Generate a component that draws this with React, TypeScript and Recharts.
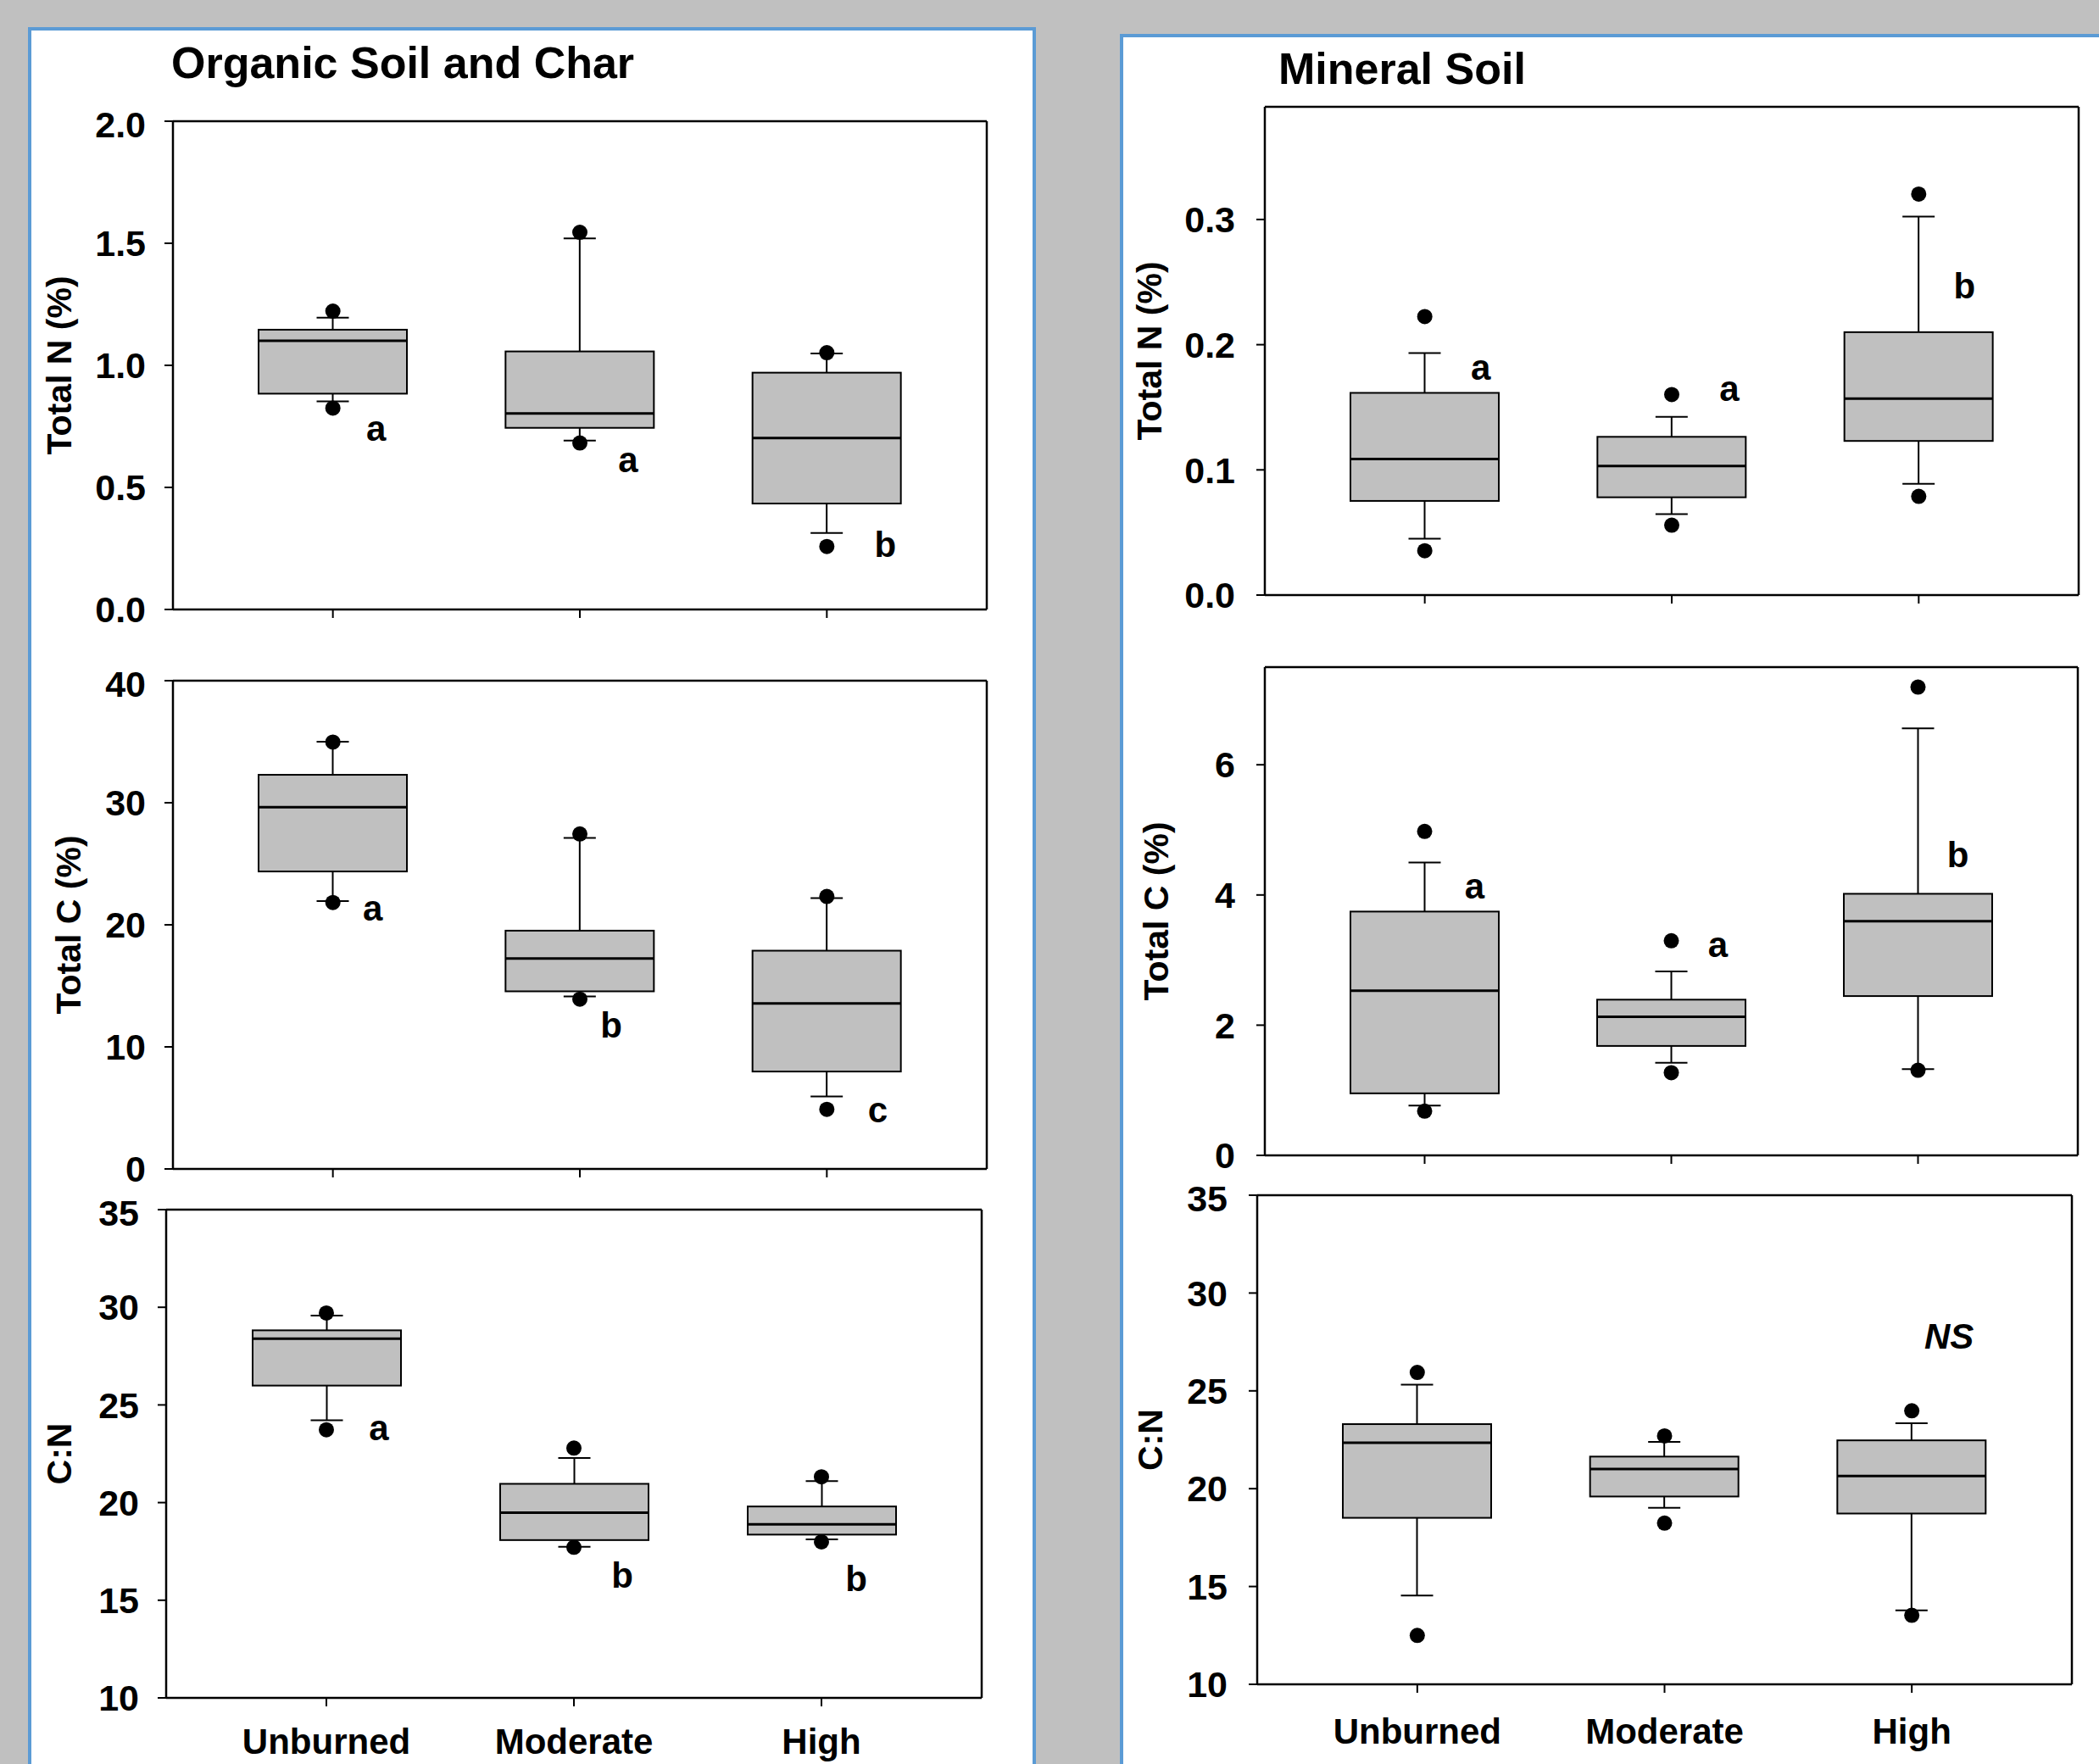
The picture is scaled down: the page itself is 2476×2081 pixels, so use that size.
import { Bar, ComposedChart, Scatter, XAxis, YAxis } from 'recharts';

const FONT = '"Liberation Sans", Arial, sans-serif';
const AXIS_W = 190;

const categories = ['Unburned', 'Moderate', 'High'];

// Organic soil and char — Total N (%)
const orgNOutHigh = [1.222, 1.545, 1.052];
const orgNWhiskerHigh = [1.195, 1.52, 1.049];
const orgNQ3 = [1.146, 1.057, 0.97];
const orgNMedian = [1.101, 0.803, 0.702];
const orgNQ1 = [0.884, 0.744, 0.434];
const orgNWhiskerLow = [0.852, 0.692, 0.313];
const orgNOutLow = [0.825, 0.682, 0.258];
const orgNLetters = ['a', 'a', 'b'];
const orgNLetterY = [0.74, 0.612, 0.265];
const orgNTicks = [0, 0.5, 1, 1.5, 2];

// Organic soil and char — Total C (%)
const orgCOutHigh = [34.97, 27.44, 22.32];
const orgCWhiskerHigh = [35.0, 27.11, 22.18];
const orgCQ3 = [32.29, 19.52, 17.88];
const orgCMedian = [29.63, 17.24, 13.56];
const orgCQ1 = [24.37, 14.55, 7.98];
const orgCWhiskerLow = [21.94, 14.14, 5.93];
const orgCOutLow = [21.83, 13.91, 4.88];
const orgCLetters = ['a', 'b', 'c'];
const orgCLetterY = [21.36, 11.78, 4.85];
const orgCTicks = [0, 10, 20, 30, 40];

// Organic soil and char — C:N
const orgCNOutHigh = [29.71, 22.79, 21.32];
const orgCNWhiskerHigh = [29.57, 22.28, 21.1];
const orgCNQ3 = [28.82, 20.96, 19.8];
const orgCNMedian = [28.39, 19.48, 18.89];
const orgCNQ1 = [25.99, 18.08, 18.36];
const orgCNWhiskerLow = [24.21, 17.74, 18.12];
const orgCNOutLow = [23.73, 17.71, 17.99];
const orgCNLetters = ['a', 'b', 'b'];
const orgCNLetterY = [23.83, 16.29, 16.1];
const cnTicks = [10, 15, 20, 25, 30, 35];

// Mineral soil — Total N (%)
const minNOutHigh = [0.2225, 0.1602, 0.3203];
const minNWhiskerHigh = [0.1933, 0.1424, 0.3023];
const minNQ3 = [0.1615, 0.1264, 0.21];
const minNMedian = [0.1086, 0.1031, 0.1569];
const minNQ1 = [0.0752, 0.0781, 0.1231];
const minNWhiskerLow = [0.045, 0.0647, 0.0889];
const minNOutLow = [0.0354, 0.0558, 0.0788];
const minNLetters = ['a', 'a', 'b'];
const minNLetterY = [0.1815, 0.165, 0.2465];
const minNTicks = [0, 0.1, 0.2, 0.3];

// Mineral soil — Total C (%)
const minCOutHigh = [4.976, 3.296, 7.193];
const minCWhiskerHigh = [4.5, 2.825, 6.558];
const minCQ3 = [3.745, 2.392, 4.018];
const minCMedian = [2.529, 2.13, 3.597];
const minCQ1 = [0.953, 1.681, 2.447];
const minCWhiskerLow = [0.766, 1.423, 1.325];
const minCOutLow = [0.679, 1.27, 1.308];
const minCLetters = ['a', 'a', 'b'];
const minCLetterY = [4.14, 3.24, 4.62];
const minCTicks = [0, 2, 4, 6];

// Mineral soil — C:N
const minCNOutHigh = [25.94, 22.7, 23.98];
const minCNWhiskerHigh = [25.32, 22.39, 23.34];
const minCNQ3 = [23.3, 21.64, 22.47];
const minCNMedian = [22.35, 21.0, 20.65];
const minCNQ1 = [18.51, 19.6, 18.73];
const minCNWhiskerLow = [14.54, 19.02, 13.78];
const minCNOutLow = [12.5, 18.24, 13.53];
const minCNLetters = ['', '', 'NS'];
const minCNLetterY = [null, null, 27.78];

type Row = {
  cat: string;
  outHi: number;
  whi: number;
  q3: number;
  med: number;
  q1: number;
  wlo: number;
  outLo: number;
  letter: string;
  letterY: number | null;
};

function buildRows(
  outHi: number[], whi: number[], q3: number[], med: number[], q1: number[],
  wlo: number[], outLo: number[], letters: string[], letterY: (number | null)[],
): Row[] {
  return categories.map((cat, i) => ({
    cat,
    outHi: outHi[i],
    whi: whi[i],
    q3: q3[i],
    med: med[i],
    q1: q1[i],
    wlo: wlo[i],
    outLo: outLo[i],
    letter: letters[i],
    letterY: letterY[i],
  }));
}

// whiskers + box + median, placed by interpolating inside the bar's [wlo, whi] span
function BoxShape(props: any) {
  const { x, y, width, height, payload } = props;
  if (!payload || width == null) return <g />;
  const top = Math.min(y, y + height);
  const span = Math.abs(height);
  const range = payload.whi - payload.wlo;
  const py = (v: number) => top + ((payload.whi - v) / range) * span;
  const cx = x + width / 2;
  const cap = 19;
  const s = { stroke: '#000', strokeWidth: 2 };
  return (
    <g>
      <line x1={cx} x2={cx} y1={py(payload.whi)} y2={py(payload.q3)} {...s} />
      <line x1={cx} x2={cx} y1={py(payload.q1)} y2={py(payload.wlo)} {...s} />
      <line x1={cx - cap} x2={cx + cap} y1={py(payload.whi)} y2={py(payload.whi)} {...s} />
      <line x1={cx - cap} x2={cx + cap} y1={py(payload.wlo)} y2={py(payload.wlo)} {...s} />
      <rect x={x} y={py(payload.q3)} width={width} height={py(payload.q1) - py(payload.q3)} fill="#c0c0c0" {...s} />
      <line x1={x} x2={x + width} y1={py(payload.med)} y2={py(payload.med)} stroke="#000" strokeWidth={3} />
    </g>
  );
}

function DotShape(props: any) {
  if (props.cx == null || props.cy == null || isNaN(props.cy)) return <g />;
  return <circle cx={props.cx} cy={props.cy} r={9} fill="#000" />;
}

function makeLetterShape(dx: number[], italic: boolean) {
  return (props: any) => {
    const p = props.payload;
    if (!p || !p.letter || props.cy == null || isNaN(props.cy)) return <g />;
    const i = categories.indexOf(p.cat);
    return (
      <text
        x={props.cx + dx[i]}
        y={props.cy}
        textAnchor="middle"
        dominantBaseline="central"
        fontFamily={FONT}
        fontWeight="bold"
        fontStyle={italic ? 'italic' : 'normal'}
        fontSize={42}
        fill="#000"
      >
        {p.letter}
      </text>
    );
  };
}

interface BoxChartProps {
  rows: Row[];
  domain: [number, number];
  ticks: number[];
  digits: number;
  yTitle: string;
  left: number;
  top: number;
  plotW: number;
  plotH: number;
  xh: number;
  titleDist: number;
  tickGap: number;
  catGap: number;
  showCats: boolean;
  letterDx: number[];
  italic?: boolean;
}

function BoxChart(props: BoxChartProps) {
  const { rows, domain, ticks, digits, yTitle, left, top, plotW, plotH, xh, titleDist, tickGap, catGap, showCats, letterDx, italic } = props;
  const W = plotW + AXIS_W + 21;
  const H = plotH + 21 + xh;
  const line = { stroke: '#000', strokeWidth: 2.5 };
  const tickFont = { fill: '#000', fontSize: 43, fontWeight: 'bold', fontFamily: FONT };

  const title = (lp: any) => {
    const vb = lp && lp.viewBox;
    const tx = vb ? vb.x + vb.width - titleDist : AXIS_W - titleDist;
    const ty = vb ? vb.y + vb.height / 2 : 21 + plotH / 2;
    return (
      <text
        x={tx}
        y={ty}
        transform={`rotate(-90 ${tx} ${ty})`}
        textAnchor="middle"
        dominantBaseline="central"
        fontFamily={FONT}
        fontWeight="bold"
        fontSize={41}
        fill="#000"
      >
        {yTitle}
      </text>
    );
  };

  return (
    <div style={{ position: 'absolute', left, top }}>
      <ComposedChart width={W} height={H} data={rows} margin={{ top: 20, right: 20, bottom: 0, left: 0 }}>
        <XAxis
          dataKey="cat"
          interval={0}
          height={xh}
          padding={{ left: 43, right: 43 }}
          tickSize={10}
          tickMargin={catGap}
          axisLine={line}
          tickLine={{ stroke: '#000', strokeWidth: 2 }}
          tick={{ ...tickFont, fontSize: 42 }}
          tickFormatter={showCats ? (v: string) => v : () => ''}
        />
        <XAxis xAxisId="top" dataKey="cat" orientation="top" height={1} tick={false} tickLine={false} axisLine={line} />
        <YAxis
          type="number"
          domain={domain}
          ticks={ticks}
          allowDataOverflow
          width={AXIS_W}
          tickSize={10}
          tickMargin={tickGap}
          axisLine={line}
          tickLine={{ stroke: '#000', strokeWidth: 2 }}
          tick={tickFont}
          tickFormatter={(v: number) => v.toFixed(digits)}
          label={{ content: title }}
        />
        <YAxis yAxisId="right" orientation="right" width={1} domain={[0, 1]} tick={false} tickLine={false} axisLine={line} />
        <Bar dataKey={(d: Row) => [d.wlo, d.whi]} barSize={175} shape={BoxShape} isAnimationActive={false} />
        <Scatter dataKey="outHi" shape={DotShape} isAnimationActive={false} />
        <Scatter dataKey="outLo" shape={DotShape} isAnimationActive={false} />
        <Scatter dataKey="letterY" shape={makeLetterShape(letterDx, !!italic)} isAnimationActive={false} />
      </ComposedChart>
    </div>
  );
}

export default function App() {
  const orgN = buildRows(orgNOutHigh, orgNWhiskerHigh, orgNQ3, orgNMedian, orgNQ1, orgNWhiskerLow, orgNOutLow, orgNLetters, orgNLetterY);
  const orgC = buildRows(orgCOutHigh, orgCWhiskerHigh, orgCQ3, orgCMedian, orgCQ1, orgCWhiskerLow, orgCOutLow, orgCLetters, orgCLetterY);
  const orgCN = buildRows(orgCNOutHigh, orgCNWhiskerHigh, orgCNQ3, orgCNMedian, orgCNQ1, orgCNWhiskerLow, orgCNOutLow, orgCNLetters, orgCNLetterY);
  const minN = buildRows(minNOutHigh, minNWhiskerHigh, minNQ3, minNMedian, minNQ1, minNWhiskerLow, minNOutLow, minNLetters, minNLetterY);
  const minC = buildRows(minCOutHigh, minCWhiskerHigh, minCQ3, minCMedian, minCQ1, minCWhiskerLow, minCOutLow, minCLetters, minCLetterY);
  const minCN = buildRows(minCNOutHigh, minCNWhiskerHigh, minCNQ3, minCNMedian, minCNQ1, minCNWhiskerLow, minCNOutLow, minCNLetters, minCNLetterY);

  return (
    <div style={{ position: 'absolute', left: 0, top: 0, width: 2476, height: 2081, overflow: 'hidden', background: '#c0c0c0' }}>
      <div style={{ position: 'absolute', left: 33, top: 32, width: 1189, height: 2100, background: '#fff', border: '4px solid #5b9bd5', boxSizing: 'border-box' }} />
      <div style={{ position: 'absolute', left: 1321, top: 40, width: 1200, height: 2100, background: '#fff', border: '4px solid #5b9bd5', boxSizing: 'border-box' }} />
      <svg width={2476} height={2081} style={{ position: 'absolute', left: 0, top: 0 }}>
        <text x={202} y={92} fontFamily={FONT} fontWeight="bold" fontSize={52} fill="#000">Organic Soil and Char</text>
        <text x={1508} y={99} fontFamily={FONT} fontWeight="bold" fontSize={52} fill="#000">Mineral Soil</text>
      </svg>

      <BoxChart rows={orgN} domain={[0, 2]} ticks={orgNTicks} digits={1} yTitle="Total N (%)"
        left={14} top={122} plotW={960} plotH={576} xh={30} titleDist={134} tickGap={22} catGap={34}
        showCats={false} letterDx={[51, 57, 69]} />
      <BoxChart rows={orgC} domain={[0, 40]} ticks={orgCTicks} digits={0} yTitle="Total C (%)"
        left={14} top={782} plotW={960} plotH={576} xh={30} titleDist={123} tickGap={22} catGap={34}
        showCats={false} letterDx={[47, 37, 60]} />
      <BoxChart rows={orgCN} domain={[10, 35]} ticks={cnTicks} digits={0} yTitle="C:N"
        left={6} top={1406} plotW={962} plotH={576} xh={100} titleDist={126} tickGap={22} catGap={26}
        showCats letterDx={[62, 57, 41]} />

      <BoxChart rows={minN} domain={[0, 0.39]} ticks={minNTicks} digits={1} yTitle="Total N (%)"
        left={1302} top={105} plotW={960} plotH={576} xh={30} titleDist={136} tickGap={25} catGap={30}
        showCats={false} letterDx={[66, 68, 54]} />
      <BoxChart rows={minC} domain={[0, 7.5]} ticks={minCTicks} digits={0} yTitle="Total C (%)"
        left={1302} top={766} plotW={959} plotH={576} xh={30} titleDist={128} tickGap={25} catGap={30}
        showCats={false} letterDx={[59, 55, 47]} />
      <BoxChart rows={minCN} domain={[10, 35]} ticks={cnTicks} digits={0} yTitle="C:N"
        left={1293} top={1389} plotW={961} plotH={577} xh={100} titleDist={126} tickGap={25} catGap={30}
        showCats letterDx={[0, 0, 44]} italic />
    </div>
  );
}
